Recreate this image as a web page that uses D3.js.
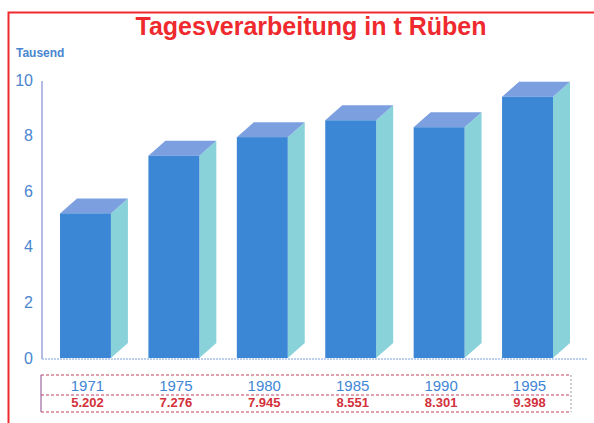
<!DOCTYPE html>
<html>
<head>
<meta charset="utf-8">
<script src="https://d3js.org/d3.v7.min.js"></script>
<style>
  body { margin: 0; background: #fff; }
  svg { display: block; font-family: Arial, "Liberation Sans", sans-serif; }
</style>
</head>
<body>
<svg id="chart"></svg>
<script>
// data
var years = ["1971", "1975", "1980", "1985", "1990", "1995"];
var values = [5.202, 7.276, 7.945, 8.551, 8.301, 9.398];
var valueLabels = ["5.202", "7.276", "7.945", "8.551", "8.301", "9.398"];
var yTicks = [0, 2, 4, 6, 8, 10];

var W = 594, H = 423;
var svg = d3.select("#chart").attr("width", W).attr("height", H);

// red frame (top + left)
svg.append("path")
    .attr("d", "M8.5," + H + " L8.5,12.5 L" + W + ",12.5")
    .style("fill", "none")
    .style("stroke", "#ee2a2e")
    .style("stroke-width", 2);

svg.append("text")
    .attr("x", 311).attr("y", 35)
    .attr("text-anchor", "middle")
    .style("font-size", "25px").style("font-weight", "bold")
    .style("fill", "#ee2a2e")
    .text("Tagesverarbeitung in t Rüben");

svg.append("text")
    .attr("x", 16).attr("y", 57)
    .style("font-size", "12px").style("font-weight", "bold")
    .style("fill", "#4a86d0")
    .text("Tausend");

var x = d3.scaleBand().domain(years).range([60, 553]).paddingInner(0.424);
var y = d3.scaleLinear().domain([0, 10]).range([358, 80]);
var dx = 17, dy = 15;

// y axis
var yAxis = svg.append("g")
    .attr("transform", "translate(42,0)")
    .call(d3.axisLeft(y).tickValues(yTicks).tickSize(0).tickPadding(9));
yAxis.select(".domain")
    .attr("d", "M0," + (y(10) + 1) + "V" + (y(0) + 1))
    .style("stroke", "#6a78c8").style("stroke-width", 1);
yAxis.selectAll("text")
    .style("font-size", "16px").style("fill", "#4a86d0")
    .style("font-family", "Arial, 'Liberation Sans', sans-serif");

// floor line
svg.append("line")
    .attr("x1", 42).attr("x2", 587)
    .attr("y1", y(0) + 1).attr("y2", y(0) + 1)
    .style("stroke", "#7aa0dc").style("stroke-dasharray", "2,1");

// 3d bars
var bars = svg.selectAll(".bar").data(values).enter().append("g").attr("class", "bar");

bars.append("polygon") // side
    .attr("points", function(d, i) {
        var x1 = x(years[i]) + x.bandwidth();
        return [[x1, y(d)], [x1 + dx, y(d) - dy], [x1 + dx, y(0) - dy], [x1, y(0)]].join(" ");
    })
    .style("fill", "#8ad2da");

bars.append("polygon") // top
    .attr("points", function(d, i) {
        var x0 = x(years[i]), x1 = x0 + x.bandwidth();
        return [[x0, y(d)], [x0 + dx, y(d) - dy], [x1 + dx, y(d) - dy], [x1, y(d)]].join(" ");
    })
    .style("fill", "#7c9fe0");

bars.append("rect") // front
    .attr("x", function(d, i) { return x(years[i]); })
    .attr("y", function(d) { return y(d); })
    .attr("width", x.bandwidth())
    .attr("height", function(d) { return y(0) - y(d); })
    .style("fill", "#3c87d5");

// data table below
var tbl = svg.append("g");
var tx0 = 41, tx1 = 571, ty0 = 375, tyM = 395, ty1 = 412;
[ty0, tyM, ty1].forEach(function(ty) {
    tbl.append("line").attr("x1", tx0).attr("x2", tx1).attr("y1", ty).attr("y2", ty)
        .style("stroke", "#c0405a").style("stroke-dasharray", "3,2");
});
tbl.append("line").attr("x1", tx0).attr("x2", tx0).attr("y1", ty0).attr("y2", ty1)
    .style("stroke", "#8a4a8a");
tbl.append("line").attr("x1", tx1).attr("x2", tx1).attr("y1", ty0).attr("y2", ty1)
    .style("stroke", "#999").style("stroke-dasharray", "2,2");

tbl.selectAll(".yr").data(years).enter().append("text")
    .attr("x", function(d) { return x(d) + x.bandwidth() / 2 + 2; })
    .attr("y", 391)
    .attr("text-anchor", "middle")
    .style("font-size", "15px").style("fill", "#3f86d6")
    .text(function(d) { return d; });

tbl.selectAll(".val").data(valueLabels).enter().append("text")
    .attr("x", function(d, i) { return x(years[i]) + x.bandwidth() / 2 + 2; })
    .attr("y", 407)
    .attr("text-anchor", "middle")
    .style("font-size", "13px").style("font-weight", "bold").style("fill", "#d3303c")
    .text(function(d) { return d; });
</script>
</body>
</html>
